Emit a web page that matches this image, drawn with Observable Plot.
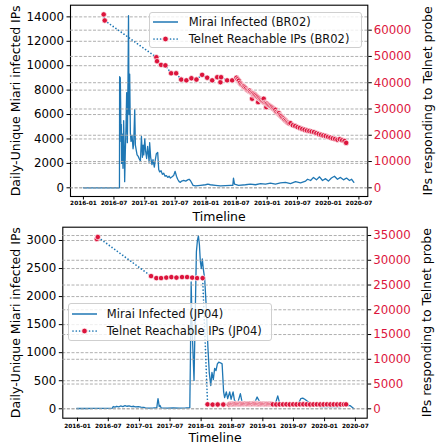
<!DOCTYPE html>
<html>
<head>
<meta charset="utf-8">
<script src="https://cdn.jsdelivr.net/npm/d3@7"></script>
<script src="https://cdn.jsdelivr.net/npm/@observablehq/plot@0.6"></script>
<style>
html,body{margin:0;padding:0;background:#fff;}
#chart{position:relative;width:439px;height:445px;overflow:hidden;font-family:"DejaVu Sans",sans-serif;}
.panel{position:absolute;left:0;width:439px;}
.layer{position:absolute;left:0;top:0;}
.lg{position:absolute;box-sizing:border-box;border:1px solid #cfcfcf;border-radius:3px;background:rgba(255,255,255,0.8);}
.lg span{position:absolute;font-size:11.5px;line-height:14px;white-space:nowrap;color:#111;}
.lg svg{position:absolute;overflow:visible;}
</style>
</head>
<body>
<div id="chart"></div>
<script>
// ---------------- DATA ----------------
const xTickLabels = ["2016-01","2016-07","2017-01","2017-07","2018-01","2018-07","2019-01","2019-07","2020-01","2020-07"];
const leftTicksBR02 = [0,2000,4000,6000,8000,10000,12000,14000];
const rightTicksBR02 = [0,10000,20000,30000,40000,50000,60000];
const leftTicksJP04 = [0,500,1000,1500,2000,2500,3000];
const rightTicksJP04 = [0,5000,10000,15000,20000,25000,30000,35000];
const yLeftTitle = "Daily-Unique Miari infected IPs";
const yRightTitle = "IPs responding to Telnet probe";
const xTitle = "Timeline";
const legendBR02 = ["Mirai Infected (BR02)","Telnet Reachable IPs (BR02)"];
const legendJP04 = ["Mirai Infected (JP04)","Telnet Reachable IPs (JP04)"];

const miraiBR02 = [
["2016-01-01",0],["2016-04-01",0],["2016-08-03",0],
["2016-08-04",9100],["2016-08-08",9000],["2016-08-10",7000],["2016-08-12",3800],["2016-08-14",5200],
["2016-08-16",2000],["2016-08-20",4400],["2016-08-24",1600],["2016-08-28",5500],["2016-09-01",2800],
["2016-09-03",500],["2016-09-07",3000],["2016-09-11",5000],["2016-09-15",7800],["2016-09-19",3700],
["2016-09-23",9000],["2016-09-26",14100],["2016-09-29",6000],["2016-10-03",9300],["2016-10-07",4500],
["2016-10-11",3800],["2016-10-17",4300],["2016-10-23",3200],["2016-10-27",3600],["2016-11-02",6400],
["2016-11-06",3500],["2016-11-12",3000],["2016-11-16",2700],["2016-11-22",2600],["2016-11-28",2400],
["2016-12-06",2200],["2016-12-12",4200],["2016-12-18",2500],["2016-12-22",3500],["2016-12-26",2700],
["2017-01-01",4000],["2017-01-06",3000],["2017-01-12",2400],["2017-01-18",3400],["2017-01-27",2100],
["2017-01-30",3700],["2017-02-05",2500],["2017-02-13",1900],["2017-02-19",2300],["2017-02-27",1700],
["2017-03-05",2300],["2017-03-11",2800],["2017-03-19",2900],["2017-03-25",1500],["2017-03-31",1300],
["2017-04-08",1400],["2017-04-16",1100],["2017-04-24",1200],["2017-05-02",950],["2017-05-10",1000],
["2017-05-18",850],["2017-05-26",950],["2017-06-03",800],["2017-06-13",900],["2017-06-22",1000],
["2017-07-01",1350],["2017-07-09",950],["2017-07-16",700],["2017-07-25",500],["2017-08-01",450],
["2017-08-09",550],["2017-08-21",600],["2017-09-02",550],["2017-09-14",650],["2017-09-22",700],
["2017-09-30",600],["2017-10-16",200],["2017-10-30",150],["2017-11-29",200],["2017-12-29",250],
["2018-01-12",300],["2018-01-27",250],["2018-02-26",200],["2018-03-28",150],["2018-04-27",180],
["2018-05-27",200],["2018-06-10",200],["2018-06-14",800],["2018-06-20",300],["2018-07-14",200],
["2018-08-24",250],["2018-09-23",300],["2018-10-23",250],["2018-11-22",350],["2018-12-22",300],
["2019-01-20",380],["2019-02-19",300],["2019-03-21",400],["2019-04-20",450],["2019-05-20",350],
["2019-06-19",500],["2019-07-19",400],["2019-08-18",550],["2019-08-30",700],["2019-09-17",600],
["2019-10-04",850],["2019-10-22",650],["2019-11-09",900],["2019-11-27",600],["2019-12-15",750],
["2020-01-01",550],["2020-01-19",800],["2020-02-06",950],["2020-02-24",700],["2020-03-13",850],
["2020-03-31",650],["2020-04-18",800],["2020-05-06",600],["2020-05-18",700],["2020-06-01",450]
];

const telnetBR02 = [
["2016-05-01",66000],["2016-05-07",63700],["2017-03-11",49700],["2017-03-15",48200],["2017-04-08",46800],
["2017-05-04",46600],["2017-06-07",43600],["2017-07-07",43600],["2017-08-06",41200],["2017-09-06",40900],
["2017-10-06",41700],["2017-11-05",41200],["2017-12-09",43000],["2018-01-08",41900],["2018-02-07",40900],
["2018-03-09",42100],["2018-03-28",40200],["2018-04-01",42100],["2018-05-07",40900],["2018-06-06",40900],
["2018-07-02",41900],["2018-07-09",41300],["2018-07-16",40800],["2018-07-23",40000],["2018-07-30",39400],
["2018-08-06",39000],["2018-08-13",38700],["2018-08-14",38600],["2018-08-20",38200],["2018-08-27",37800],
["2018-09-03",37300],["2018-09-10",37000],["2018-09-17",36700],["2018-09-19",37000],["2018-09-24",36500],
["2018-10-01",36100],["2018-10-03",33900],["2018-10-08",35900],["2018-10-13",35100],["2018-10-15",35600],
["2018-10-22",35300],["2018-10-29",34900],["2018-11-05",34500],["2018-11-08",32600],["2018-11-12",34100],
["2018-11-19",33700],["2018-11-26",33400],["2018-12-03",33000],["2018-12-10",32700],["2018-12-11",33900],
["2018-12-17",32400],["2018-12-24",32200],["2018-12-27",30700],["2018-12-31",32000],["2019-01-07",31600],
["2019-01-14",31300],["2019-01-21",31000],["2019-01-28",30700],["2019-02-04",30300],["2019-02-11",29900],
["2019-02-18",29400],["2019-02-19",29700],["2019-02-25",28900],["2019-03-04",28500],["2019-03-11",28100],
["2019-03-12",28400],["2019-03-18",27700],["2019-03-25",27300],["2019-04-01",26800],["2019-04-08",26400],
["2019-04-14",25900],["2019-04-15",25900],["2019-04-22",25500],["2019-04-29",25100],["2019-05-06",24800],
["2019-05-13",24500],["2019-05-20",24600],["2019-06-03",23800],["2019-06-17",23500],["2019-07-01",23100],
["2019-07-15",22800],["2019-07-29",22400],["2019-08-12",22100],["2019-08-26",21800],["2019-09-09",21600],
["2019-09-23",21400],["2019-10-07",21200],["2019-10-21",20800],["2019-11-04",20500],["2019-11-18",20200],
["2019-12-02",19900],["2019-12-16",19700],["2019-12-30",19400],["2020-01-13",19100],["2020-01-27",18800],
["2020-02-10",18600],["2020-02-24",18300],["2020-03-09",18500],["2020-03-23",18100],["2020-04-06",17800],
["2020-04-16",17100]
];

const miraiJP04 = [
["2015-12-27",5],["2016-02-15",5],["2016-04-10",8],["2016-06-04",6],["2016-07-25",10],["2016-07-30",40],
["2016-08-10",30],["2016-08-20",45],["2016-09-01",35],["2016-09-12",50],["2016-09-25",40],["2016-10-08",55],
["2016-10-20",45],["2016-11-01",50],["2016-11-15",40],["2016-11-28",45],["2016-12-10",35],["2016-12-25",40],
["2017-01-10",30],["2017-01-27",25],["2017-02-05",15],["2017-03-01",12],["2017-03-25",15],["2017-04-14",20],
["2017-04-18",120],["2017-04-21",180],["2017-04-24",130],["2017-04-28",40],["2017-05-03",60],["2017-05-10",15],
["2017-06-15",12],["2017-07-20",15],["2017-08-25",12],["2017-10-01",15],["2017-10-26",20],["2017-10-30",1000],
["2017-11-03",2260],["2017-11-09",1400],["2017-11-20",505],["2017-11-26",1500],["2017-12-04",2800],
["2017-12-10",3000],["2017-12-16",3080],["2017-12-22",2920],["2017-12-27",2640],["2018-01-02",2500],
["2018-01-08",2670],["2018-01-14",2490],["2018-01-22",2320],["2018-02-02",1720],["2018-02-10",1100],
["2018-02-18",650],["2018-02-27",415],["2018-03-06",650],["2018-03-14",520],["2018-03-22",720],
["2018-03-30",680],["2018-04-07",800],["2018-04-15",830],["2018-04-25",820],["2018-05-05",800],
["2018-05-14",300],["2018-05-20",200],["2018-05-30",300],["2018-06-07",180],["2018-06-19",300],
["2018-06-27",170],["2018-07-09",300],["2018-07-17",150],["2018-08-05",100],["2018-08-21",270],
["2018-08-31",120],["2018-09-20",70],["2018-10-20",70],["2018-11-10",80],["2018-11-28",210],
["2018-12-17",100],["2019-01-10",60],["2019-02-05",70],["2019-02-12",110],["2019-02-20",60],
["2019-03-15",80],["2019-03-30",230],["2019-04-10",100],["2019-05-15",60],["2019-06-20",60],
["2019-07-25",60],["2019-08-13",180],["2019-08-25",190],["2019-09-06",170],["2019-10-28",50],
["2019-12-15",40],["2020-02-10",40],["2020-04-01",40],["2020-05-14",60],["2020-06-01",55],["2020-06-21",5]
];

const telnetJP04 = [
["2016-04-24",34300],["2016-04-30",34700],["2017-03-11",26800],["2017-04-11",26400],["2017-05-09",26400],
["2017-06-09",26500],["2017-07-09",26600],["2017-08-08",26500],["2017-09-10",26600],["2017-10-10",26600],
["2017-11-09",26500],["2017-12-08",26400],["2018-01-10",26400],["2018-02-08",900],["2018-03-10",850],
["2018-04-09",870],["2018-05-12",860],["2018-06-15",880],
["2018-06-22",1000],["2018-06-29",980],["2018-07-06",1020],["2018-07-13",990],["2018-07-20",1010],
["2018-07-27",1040],["2018-08-03",990],["2018-08-10",1000],["2018-08-17",1030],["2018-08-24",1010],
["2018-08-31",980],["2018-09-07",1000],["2018-09-14",1020],["2018-09-21",1050],["2018-09-28",1000],
["2018-10-05",990],["2018-10-12",1010],["2018-10-19",1040],["2018-10-26",1020],["2018-11-02",1000],
["2018-11-09",1060],["2018-11-16",1030],["2018-11-23",1000],["2018-11-30",1010],["2018-12-07",980],
["2018-12-14",1000],["2018-12-21",1020],["2018-12-28",990],["2019-01-04",1000],["2019-01-11",1010],
["2019-01-18",990],["2019-01-25",1000],["2019-02-01",980],["2019-02-08",1000],["2019-02-15",970],
["2019-02-22",950],
["2019-03-01",900],["2019-03-21",880],["2019-04-10",900],["2019-04-30",890],["2019-05-20",900],
["2019-06-09",880],["2019-06-29",900],["2019-07-19",890],["2019-08-08",900],["2019-08-28",910],
["2019-09-17",900],["2019-10-07",880],["2019-10-27",890],["2019-11-16",900],["2019-12-06",880],
["2019-12-26",890],["2020-01-15",900],["2020-02-04",880],["2020-02-24",890],["2020-03-15",880],
["2020-04-04",900],["2020-04-24",890],["2020-05-07",900]
];

// ---------------- DRAWING ----------------
const parse = d3.utcParse("%Y-%m-%d");
const parseMonth = d3.utcParse("%Y-%m");
const rows = pairs => pairs.map(([d, v]) => ({date: parse(d), value: v}));
const BLUE = "#1f77b4", RED = "#dc143c", GRID = "#a6a6a6";
const DOTS = "0.01,3.3";
const xTicks = xTickLabels.map(parseMonth);
const fmtInt = d => String(d);
const plotStyle = {background: "transparent", fontFamily: "'DejaVu Sans', sans-serif", overflow: "visible", color: "#000"};

function panel(cfg) {
  const div = document.createElement("div");
  div.className = "panel";
  div.style.top = cfg.top + "px";
  div.style.height = cfg.height + "px";
  document.getElementById("chart").appendChild(div);

  const common = {
    width: 439, height: cfg.height,
    marginTop: cfg.m[0], marginRight: cfg.m[1], marginBottom: cfg.m[2], marginLeft: cfg.m[3],
    style: plotStyle
  };
  const xDomain = cfg.xDomain.map(parse);

  const left = Plot.plot({
    ...common,
    x: {type: "utc", domain: xDomain},
    y: {domain: cfg.leftDomain},
    marks: [
      Plot.gridY({ticks: cfg.leftTicks, stroke: GRID, strokeOpacity: 1, strokeWidth: 0.9, strokeDasharray: "3,1.6"}),
      Plot.line(rows(cfg.mirai), {x: "date", y: "value", stroke: BLUE, strokeWidth: 1.3}),
      Plot.axisY({ticks: cfg.leftTicks, anchor: "left", tickSize: 3.5, tickPadding: 3, fontSize: 11.8, tickFormat: fmtInt, label: null}),
      Plot.axisX({ticks: xTicks, anchor: "bottom", tickSize: 3.5, tickPadding: cfg.xPad, fontSize: 5.8, fontWeight: "bold", tickFormat: d3.utcFormat("%Y-%m"), label: null}),
      Plot.frame({stroke: "#000", strokeWidth: 1.1}),
      Plot.text([yLeftTitle], {frameAnchor: "left", textAnchor: "middle", lineAnchor: "middle", rotate: -90, dx: cfg.leftTitleDx, fontSize: 12.5, text: d => d}),
      Plot.text([xTitle], {frameAnchor: "bottom", textAnchor: "middle", lineAnchor: "middle", dy: cfg.xTitleDy, fontSize: 12.5, text: d => d})
    ]
  });

  const tel = rows(cfg.telnet);
  const right = Plot.plot({
    ...common,
    x: {type: "utc", domain: xDomain, axis: null},
    y: {domain: cfg.rightDomain},
    marks: [
      Plot.gridY({ticks: cfg.rightTicks, stroke: GRID, strokeOpacity: 1, strokeWidth: 0.9, strokeDasharray: "3,1.6"}),
      Plot.line(tel, {x: "date", y: "value", stroke: BLUE, strokeWidth: 1.7, strokeDasharray: DOTS, strokeLinecap: "round"}),
      Plot.dot(tel, {x: "date", y: "value", r: 2.7, fill: RED, stroke: "#fff", strokeWidth: 0.7}),
      Plot.axisY({ticks: cfg.rightTicks, anchor: "right", tickSize: 3.5, tickPadding: 2.5, fontSize: 11.8, fill: RED, stroke: "#000", tickFormat: fmtInt, label: null}),
      Plot.text([yRightTitle], {frameAnchor: "right", textAnchor: "middle", lineAnchor: "middle", rotate: -90, dx: cfg.rightTitleDx, fontSize: 12.5, text: d => d})
    ]
  });

  for (const s of [left, right]) { s.classList.add("layer"); div.appendChild(s); }

  // legend
  const lg = document.createElement("div");
  lg.className = "lg";
  Object.assign(lg.style, {left: cfg.legend.left + "px", top: cfg.legend.top + "px", width: cfg.legend.width + "px", height: cfg.legend.height + "px"});
  div.appendChild(lg);
  cfg.legendLabels.forEach((label, i) => {
    const cy = cfg.legend.rows[i];
    const svg = d3.create("svg").attr("width", 26).attr("height", 8)
      .style("left", "3px").style("top", (cy - 4) + "px");
    if (i === 0) {
      svg.append("line").attr("x1", 0).attr("x2", 25).attr("y1", 4).attr("y2", 4)
        .attr("stroke", BLUE).attr("stroke-width", 1.5);
    } else {
      svg.append("line").attr("x1", 1).attr("x2", 25).attr("y1", 4).attr("y2", 4)
        .attr("stroke", BLUE).attr("stroke-width", 1.7).attr("stroke-dasharray", DOTS)
        .attr("stroke-linecap", "round");
      svg.append("circle").attr("cx", 12.5).attr("cy", 4).attr("r", 2.8)
        .attr("fill", RED).attr("stroke", "#fff").attr("stroke-width", 0.7);
    }
    lg.appendChild(svg.node());
    const sp = document.createElement("span");
    sp.textContent = label;
    sp.style.left = cfg.legend.textX + "px";
    sp.style.top = (cy - 7) + "px";
    lg.appendChild(sp);
  });
}

panel({
  top: 0, height: 222, m: [4.7, 71.7, 26, 70],
  xDomain: ["2015-10-16", "2020-08-23"],
  leftDomain: [-712, 14955], rightDomain: [-3312, 69510],
  leftTicks: leftTicksBR02, rightTicks: rightTicksBR02,
  mirai: miraiBR02, telnet: telnetBR02,
  xPad: 0.8, leftTitleDx: -55, rightTitleDx: 60, xTitleDy: 20,
  legendLabels: legendBR02,
  legend: {left: 149.3, top: 11.7, width: 212.4, height: 36.6, rows: [9.5, 26], textX: 38.5}
});

panel({
  top: 222, height: 223, m: [4.7, 72.3, 27.3, 62.3],
  xDomain: ["2015-10-06", "2020-09-09"],
  leftDomain: [-168, 3237], rightDomain: [-1899, 36680],
  leftTicks: leftTicksJP04, rightTicks: rightTicksJP04,
  mirai: miraiJP04, telnet: telnetJP04,
  xPad: 2, leftTitleDx: -47, rightTitleDx: 60, xTitleDy: 19.5,
  legendLabels: legendJP04,
  legend: {left: 68.3, top: 81.3, width: 204, height: 37.7, rows: [9.5, 26.5], textX: 37.5}
});
</script>
</body>
</html>
